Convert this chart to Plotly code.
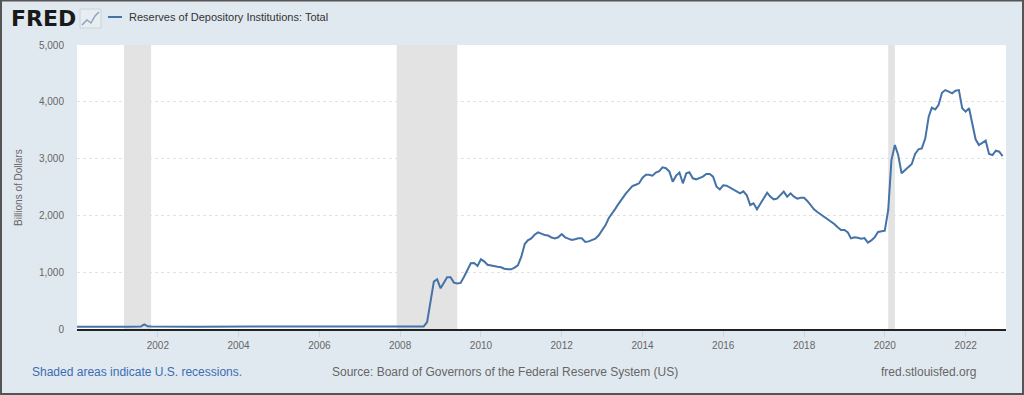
import pandas as pd
import plotly.graph_objects as go

# ---------------- data (billions of dollars, monthly) ----------------
start_month = "2000-01-01"
v2000 = [41, 40, 40, 40, 39, 39, 39, 39, 39, 39, 39, 40]
v2001 = [40, 39, 39, 39, 39, 38, 38, 45, 82, 48, 42, 41]
v2002 = [41, 40, 40, 39, 39, 38, 38, 38, 38, 38, 38, 40]
v2003 = [41, 42, 42, 42, 42, 42, 43, 43, 43, 43, 43, 43]
v2004 = [45, 45, 45, 45, 45, 45, 45, 46, 46, 46, 46, 46]
v2005 = [47, 46, 46, 46, 45, 45, 45, 45, 45, 45, 45, 45]
v2006 = [45, 44, 44, 44, 44, 43, 43, 43, 43, 43, 43, 43]
v2007 = [44, 43, 43, 43, 43, 43, 43, 43, 44, 43, 43, 43]
v2008 = [43, 43, 43, 43, 43, 44, 45, 46, 120, 480, 833, 875]
v2009 = [716, 820, 910, 910, 816, 800, 812, 921, 1050, 1157, 1160, 1110]
v2010 = [1227, 1186, 1130, 1115, 1100, 1095, 1086, 1060, 1050, 1050, 1080, 1121]
v2011 = [1273, 1496, 1560, 1596, 1660, 1702, 1680, 1655, 1645, 1610, 1596, 1614]
v2012 = [1672, 1614, 1590, 1567, 1580, 1596, 1596, 1532, 1543, 1560, 1590, 1650]
v2013 = [1750, 1830, 1949, 2030, 2120, 2213, 2300, 2380, 2450, 2518, 2540, 2565]
v2014 = [2664, 2717, 2717, 2700, 2754, 2780, 2846, 2830, 2770, 2594, 2700, 2754]
v2015 = [2565, 2740, 2760, 2653, 2635, 2660, 2682, 2729, 2729, 2682, 2506, 2459]
v2016 = [2530, 2524, 2490, 2459, 2418, 2388, 2424, 2353, 2183, 2213, 2107, 2195]
v2017 = [2300, 2400, 2330, 2283, 2295, 2350, 2418, 2330, 2388, 2330, 2295, 2312]
v2018 = [2312, 2250, 2180, 2107, 2060, 2020, 1980, 1940, 1900, 1850, 1790, 1743]
v2019 = [1743, 1700, 1596, 1614, 1605, 1590, 1600, 1520, 1560, 1614, 1708, 1720]
v2020 = [1731, 2095, 2975, 3239, 3063, 2741, 2800, 2860, 2905, 3081, 3164, 3180]
v2021 = [3357, 3738, 3896, 3866, 3943, 4160, 4207, 4180, 4150, 4196, 4207, 3885]
v2022 = [3826, 3885, 3600, 3340, 3239, 3280, 3315, 3081, 3063, 3139, 3122, 3045]

reserves = (v2000 + v2001 + v2002 + v2003 + v2004 + v2005 + v2006 + v2007 + v2008
            + v2009 + v2010 + v2011 + v2012 + v2013 + v2014 + v2015 + v2016
            + v2017 + v2018 + v2019 + v2020 + v2021 + v2022)
dates = pd.date_range(start_month, periods=len(reserves), freq="MS")

recession_starts = ["2001-03-01", "2007-12-01", "2020-02-01"]
recession_ends = ["2001-11-01", "2009-06-01", "2020-04-01"]

series_name = "Reserves of Depository Institutions: Total"
y_title = "Billions of Dollars"
y_ticks = [0, 1000, 2000, 3000, 4000, 5000]
x_ticks = ["2002-01-01", "2004-01-01", "2006-01-01", "2008-01-01", "2010-01-01",
           "2012-01-01", "2014-01-01", "2016-01-01", "2018-01-01", "2020-01-01",
           "2022-01-01"]
x_tick_text = ["2002", "2004", "2006", "2008", "2010", "2012", "2014", "2016",
               "2018", "2020", "2022"]
footer_left = "Shaded areas indicate U.S. recessions."
footer_mid = "Source: Board of Governors of the Federal Reserve System (US)"
footer_right = "fred.stlouisfed.org"

# ---------------- layout geometry ----------------
W, H = 1024, 395
L, R, T, B = 77, 1006, 45, 329
PW, PH = R - L, B - T


def px(x):
    return (x - L) / PW


def py(y):
    return (B - y) / PH


FONT = "Liberation Sans, Arial, sans-serif"
LINE_COLOR = "#4572a7"
BG = "#e1e9f0"

fig = go.Figure()
fig.add_trace(go.Scatter(
    x=dates, y=reserves, mode="lines", name=series_name,
    line=dict(color=LINE_COLOR, width=2), showlegend=False,
))

for s, e in zip(recession_starts, recession_ends):
    fig.add_vrect(x0=s, x1=e, fillcolor="#e3e3e3", line_width=0,
                  layer="below", opacity=1)

shapes = []
# outer border
shapes.append(dict(type="rect", xref="paper", yref="paper",
                   x0=px(1), x1=px(W - 1), y0=py(H - 1), y1=py(0.5),
                   line=dict(color="#555555", width=2), fillcolor="rgba(0,0,0,0)",
                   layer="above"))
# legend sample line
shapes.append(dict(type="line", xref="paper", yref="paper",
                   x0=px(108), x1=px(122), y0=py(17), y1=py(17),
                   line=dict(color=LINE_COLOR, width=2)))
# FRED mini-chart icon
shapes.append(dict(type="rect", xref="paper", yref="paper",
                   x0=px(80), x1=px(101), y0=py(28), y1=py(9),
                   line=dict(color="#c9d1da", width=1), fillcolor="#e8edf2"))
icon_path = "M {} {} L {} {} L {} {} L {} {} L {} {}".format(
    px(82), py(25), px(87), py(20), px(91), py(23), px(95), py(16), px(99), py(12))
shapes.append(dict(type="path", xref="paper", yref="paper", path=icon_path,
                   line=dict(color="#8aa4c4", width=1.5)))
fig.update_layout(shapes=list(fig.layout.shapes) + shapes)

annotations = [
    dict(text="<b>FRED</b>", x=px(9), y=py(19), xanchor="left", yanchor="middle",
         font=dict(family="DejaVu Sans, sans-serif", size=22, color="#1a1a1a")),
    dict(text=series_name, x=px(127), y=py(17), xanchor="left", yanchor="middle",
         font=dict(family=FONT, size=11, color="#333333")),
    dict(text=y_title, x=px(18), y=py(187), xanchor="center", yanchor="middle",
         textangle=-90, font=dict(family=FONT, size=10, color="#666666")),
    dict(text=footer_left, x=px(30), y=py(372), xanchor="left", yanchor="middle",
         font=dict(family=FONT, size=12, color="#3b6db3")),
    dict(text=footer_mid, x=px(330), y=py(372), xanchor="left", yanchor="middle",
         font=dict(family=FONT, size=12, color="#666666")),
    dict(text=footer_right, x=px(978), y=py(372), xanchor="right", yanchor="middle",
         font=dict(family=FONT, size=12, color="#666666")),
]
for a in annotations:
    a.update(xref="paper", yref="paper", showarrow=False)

fig.update_layout(
    width=W, height=H,
    margin=dict(l=L, r=W - R, t=T, b=H - B, pad=0),
    paper_bgcolor=BG, plot_bgcolor="#ffffff",
    annotations=annotations,
    showlegend=False,
    font=dict(family=FONT, size=10, color="#666666"),
    xaxis=dict(
        type="date", range=["2000-01-01", "2023-01-01"],
        tickvals=x_ticks, ticktext=x_tick_text,
        showgrid=False, zeroline=False,
        showline=True, linecolor="#222222", linewidth=2,
        ticks="outside", ticklen=6, tickcolor="#ccd6eb", tickwidth=1,
        tickfont=dict(family=FONT, size=10, color="#666666"),
    ),
    yaxis=dict(
        range=[0, 5000], tickvals=y_ticks, tickformat=",d",
        showgrid=True, gridcolor="#e2e2e2", griddash="dot", gridwidth=1,
        zeroline=False, showline=False, ticks="",
        ticklabelstandoff=12,
        tickfont=dict(family=FONT, size=10, color="#666666"),
    ),
)

fig.write_html(
    "out.html",
    config={"displayModeBar": False, "staticPlot": True},
    post_script="document.body.style.margin='0';document.body.style.overflow='hidden';",
)
